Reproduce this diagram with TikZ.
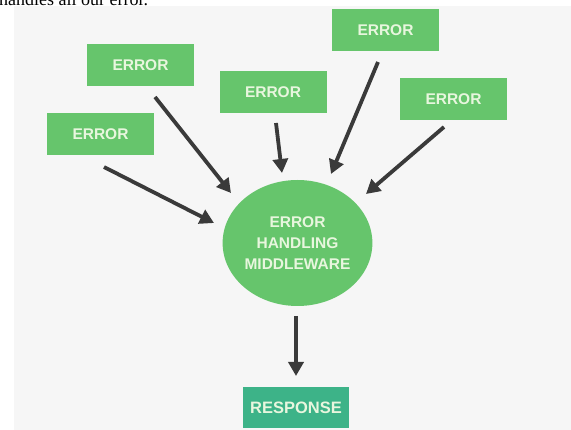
\documentclass[tikz,border=0pt]{standalone}
\usepackage{fontspec}
\setmainfont{Liberation Serif}
\setsansfont{Liberation Sans}
\usetikzlibrary{calc, shapes.geometric, positioning, arrows.meta}
\definecolor{bggray}{HTML}{F6F6F6}
\definecolor{errgreen}{HTML}{66C56C}
\definecolor{respgreen}{HTML}{3DB388}
\definecolor{txtgreen}{HTML}{E8F6DE}
\definecolor{arrgray}{HTML}{3A3A3A}

\begin{document}
\begin{tikzpicture}[x=1pt,y=-1pt,
  errbox/.style={fill=errgreen, minimum width=107pt, minimum height=42pt, inner sep=0pt,
    text=txtgreen, font=\sffamily\bfseries\fontsize{15.5}{17}\selectfont},
  respbox/.style={errbox, fill=respgreen, font=\sffamily\bfseries\fontsize{16.5}{18}\selectfont},
  mware/.style={ellipse, fill=errgreen, minimum width=149pt, minimum height=126pt, inner sep=0pt,
    text=txtgreen, align=center, font=\sffamily\bfseries\fontsize{15.5}{21}\selectfont},
  flow/.style={draw=arrgray, line width=3.8pt, -{Triangle[width=15pt,length=14pt]}}]
\useasboundingbox (0,0) rectangle (571,430);
\clip (0,0) rectangle (571,430);
\fill [bggray] (14,6) rectangle (571,430);
% caption line cut off at the top
\node [anchor=base west, inner sep=0pt, font=\fontsize{18}{20}\selectfont] (cap) at (-1,6) {handles all our error.};
% error boxes
\node [errbox] (err1) at (100.5,134.5) {ERROR};
\node [errbox] (err2) at (140.5,65.5) {ERROR};
\node [errbox] (err3) at (273,92) {ERROR};
\node [errbox] (err4) at (385.5,30.5) {ERROR};
\node [errbox] (err5) at (453.5,99.5) {ERROR};
\node [mware] (mw) at (297.5,243) {ERROR\\HANDLING\\MIDDLEWARE};
\node [respbox, minimum width=106pt, minimum height=41pt] (resp) at (296,407.5) {RESPONSE};
% arrow ends
\coordinate (s1) at (104,167);
\coordinate (t1) at (214,223);
\coordinate (s2) at (155,97);
\coordinate (t2) at (231,193);
\coordinate (s3) at (276,123);
\coordinate (t3) at (282,173);
\coordinate (s4) at (378,62);
\coordinate (t4) at (331,174);
\coordinate (s5) at (444,127);
\coordinate (t5) at (366,194);
\coordinate (s6) at (296,316);
\coordinate (t6) at (296,376);
\foreach \i in {1,...,6}
  \draw [flow] (s\i) -- (t\i);
\end{tikzpicture}
\end{document}
